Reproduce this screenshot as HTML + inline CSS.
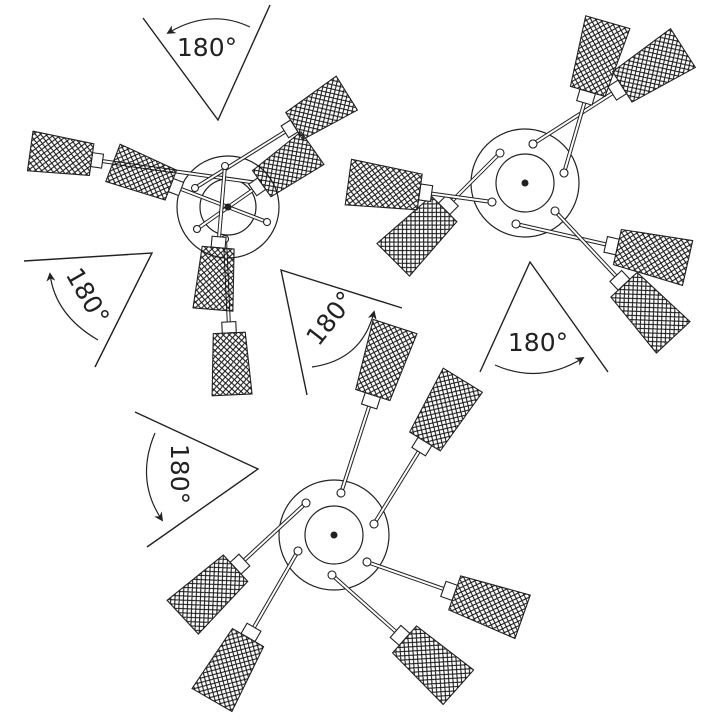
<!DOCTYPE html>
<html><head><meta charset="utf-8"><style>
html,body{margin:0;padding:0;background:#fff;}
svg{display:block;}
text{font-family:"DejaVu Sans","Liberation Sans",sans-serif;fill:#222;}
</style></head><body>
<svg width="720" height="720" viewBox="0 0 720 720" xmlns="http://www.w3.org/2000/svg">
<defs>
<pattern id="h" patternUnits="userSpaceOnUse" width="6" height="6">
<path d="M0,0L6,6M6,0L0,6M-1,5L1,7M5,-1L7,1M-1,1L1,-1M5,7L7,5" stroke="#111" stroke-width="1" fill="none"/>
</pattern>
<marker id="ar" viewBox="0 0 10 10" refX="8" refY="5" markerWidth="9" markerHeight="9" orient="auto" markerUnits="userSpaceOnUse">
<path d="M0,0L10,5L0,10L3,5Z" fill="#222"/>
</marker>
</defs>
<g fill="none" stroke="#222" stroke-width="1.4">
<polyline points="143,18 218,120 270,5"/>
<polyline points="24,261 152,253 95,367"/>
<polyline points="402,308 281,270 307,395"/>
<polyline points="480,372 530,262 608,372"/>
<polyline points="135,412 258,469 147,547"/>
<path d="M250,27 Q210,8 168,33" marker-end="url(#ar)" stroke-width="1.2"/>
<path d="M98,340 Q55,315 50,274" marker-end="url(#ar)" stroke-width="1.2"/>
<path d="M312,367 Q362,360 374,312" marker-end="url(#ar)" stroke-width="1.2"/>
<path d="M495,365 Q540,385 583,358" marker-end="url(#ar)" stroke-width="1.2"/>
<path d="M155,433 Q135,480 162,520" marker-end="url(#ar)" stroke-width="1.2"/>
</g>
<g font-size="25">
<text x="207" y="56" text-anchor="middle">180°</text>
<text x="538" y="351" text-anchor="middle">180°</text>
<text transform="translate(88,296) rotate(60)" text-anchor="middle" dy="9">180°</text>
<text transform="translate(330,318) rotate(-52)" text-anchor="middle" dy="9">180°</text>
<text transform="translate(180,474) rotate(90)" text-anchor="middle" dy="9">180°</text>
</g>

<g fill="none" stroke="#222" stroke-width="1.2">
<circle cx="228" cy="207" r="51"/><circle cx="228" cy="207" r="28"/>
<circle cx="525" cy="183" r="54"/><circle cx="525" cy="183" r="29"/>
<circle cx="334" cy="535" r="55"/><circle cx="334" cy="535" r="29"/>
</g>
<circle cx="525" cy="183" r="3.5" fill="#222"/>
<circle cx="334" cy="535" r="3.5" fill="#222"/>

<g stroke="#222" stroke-width="1.1">
<g transform="translate(341,493) rotate(-72)"><line x2="91" stroke-width="4"/><line x2="91" stroke="#fff" stroke-width="2"/><circle r="4" fill="#fff"/><rect x="91" y="-8" width="12" height="16" fill="#fff"/><polygon points="103,-18 175,-23 175,23 103,18" fill="url(#h)"/></g>
<g transform="translate(374,524) rotate(-58.3)"><line x2="85" stroke-width="4"/><line x2="85" stroke="#fff" stroke-width="2"/><circle r="4" fill="#fff"/><rect x="85" y="-8" width="12" height="16" fill="#fff"/><polygon points="97,-18 169,-23 169,23 97,18" fill="url(#h)"/></g>
<g transform="translate(367,562) rotate(19.4)"><line x2="81" stroke-width="4"/><line x2="81" stroke="#fff" stroke-width="2"/><circle r="4" fill="#fff"/><rect x="81" y="-8" width="12" height="16" fill="#fff"/><polygon points="93,-18 165,-23 165,23 93,18" fill="url(#h)"/></g>
<g transform="translate(332,575) rotate(41.6)"><line x2="85" stroke-width="4"/><line x2="85" stroke="#fff" stroke-width="2"/><circle r="4" fill="#fff"/><rect x="85" y="-8" width="12" height="16" fill="#fff"/><polygon points="97,-18 169,-23 169,23 97,18" fill="url(#h)"/></g>
<g transform="translate(306,503) rotate(137.2)"><line x2="84" stroke-width="4"/><line x2="84" stroke="#fff" stroke-width="2"/><circle r="4" fill="#fff"/><rect x="84" y="-8" width="12" height="16" fill="#fff"/><polygon points="96,-18 168,-23 168,23 96,18" fill="url(#h)"/></g>
<g transform="translate(298,551) rotate(120)"><line x2="88" stroke-width="4"/><line x2="88" stroke="#fff" stroke-width="2"/><circle r="4" fill="#fff"/><rect x="88" y="-8" width="12" height="16" fill="#fff"/><polygon points="100,-18 172,-23 172,23 100,18" fill="url(#h)"/></g>
<g transform="translate(533,144) rotate(-32.6)"><line x2="94" stroke-width="4"/><line x2="94" stroke="#fff" stroke-width="2"/><circle r="4" fill="#fff"/><rect x="94" y="-8" width="12" height="16" fill="#fff"/><polygon points="106,-18 178,-23 178,23 106,18" fill="url(#h)"/></g>
<g transform="translate(564,173) rotate(-73.8)"><line x2="73" stroke-width="4"/><line x2="73" stroke="#fff" stroke-width="2"/><circle r="4" fill="#fff"/><rect x="73" y="-8" width="12" height="16" fill="#fff"/><polygon points="85,-18 157,-23 157,23 85,18" fill="url(#h)"/></g>
<g transform="translate(500,153) rotate(135)"><line x2="67" stroke-width="4"/><line x2="67" stroke="#fff" stroke-width="2"/><circle r="4" fill="#fff"/><rect x="67" y="-8" width="12" height="16" fill="#fff"/><polygon points="79,-18 151,-23 151,23 79,18" fill="url(#h)"/></g>
<g transform="translate(492,202) rotate(187.9)"><line x2="61" stroke-width="4"/><line x2="61" stroke="#fff" stroke-width="2"/><circle r="4" fill="#fff"/><rect x="61" y="-8" width="12" height="16" fill="#fff"/><polygon points="73,-18 145,-23 145,23 73,18" fill="url(#h)"/></g>
<g transform="translate(516,224) rotate(12.8)"><line x2="92" stroke-width="4"/><line x2="92" stroke="#fff" stroke-width="2"/><circle r="4" fill="#fff"/><rect x="92" y="-8" width="12" height="16" fill="#fff"/><polygon points="104,-18 176,-23 176,23 104,18" fill="url(#h)"/></g>
<g transform="translate(555,211) rotate(46.9)"><line x2="89" stroke-width="4"/><line x2="89" stroke="#fff" stroke-width="2"/><circle r="4" fill="#fff"/><rect x="89" y="-8" width="12" height="16" fill="#fff"/><polygon points="101,-18 173,-23 173,23 101,18" fill="url(#h)"/></g>
<g transform="translate(258,183) rotate(188)"><line x2="157" stroke-width="4"/><line x2="157" stroke="#fff" stroke-width="2"/><circle r="3.5" fill="#fff"/><rect x="157" y="-7" width="11" height="14" fill="#fff"/><polygon points="168,-16 230,-20 230,20 168,16" fill="url(#h)"/></g>
<g transform="translate(195,188) rotate(-32)"><line x2="106" stroke-width="4"/><line x2="106" stroke="#fff" stroke-width="2"/><circle r="3.5" fill="#fff"/><rect x="106" y="-7" width="11" height="14" fill="#fff"/><polygon points="117,-16 179,-20 179,20 117,16" fill="url(#h)"/></g>
<g transform="translate(225,239) rotate(87.4)"><line x2="83" stroke-width="4"/><line x2="83" stroke="#fff" stroke-width="2"/><circle r="3.5" fill="#fff"/><rect x="83" y="-7" width="11" height="14" fill="#fff"/><polygon points="94,-16 156,-20 156,20 94,16" fill="url(#h)"/></g>
<g transform="translate(267,222) rotate(201)"><line x2="92" stroke-width="4"/><line x2="92" stroke="#fff" stroke-width="2"/><circle r="3.5" fill="#fff"/><rect x="92" y="-7" width="11" height="14" fill="#fff"/><polygon points="103,-16 165,-20 165,20 103,16" fill="url(#h)"/></g>
<g transform="translate(197,229) rotate(-35)"><line x2="68" stroke-width="4"/><line x2="68" stroke="#fff" stroke-width="2"/><circle r="3.5" fill="#fff"/><rect x="68" y="-7" width="11" height="14" fill="#fff"/><polygon points="79,-16 141,-20 141,20 79,16" fill="url(#h)"/></g>
<g transform="translate(225,166) rotate(94.8)"><line x2="71" stroke-width="4"/><line x2="71" stroke="#fff" stroke-width="2"/><circle r="3.5" fill="#fff"/><rect x="71" y="-7" width="11" height="14" fill="#fff"/><polygon points="82,-16 144,-20 144,20 82,16" fill="url(#h)"/></g>
</g>
<circle cx="228" cy="207" r="3.5" fill="#222"/>
</svg>
</body></html>
